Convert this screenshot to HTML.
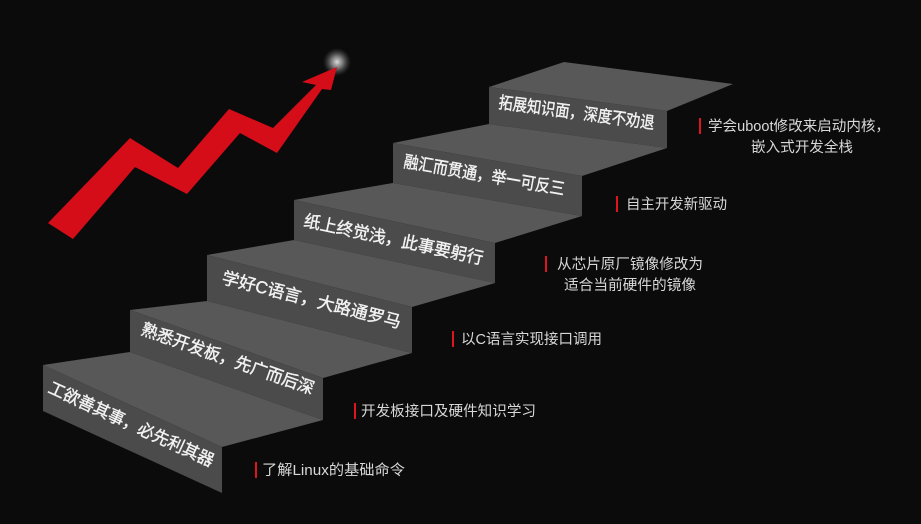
<!DOCTYPE html>
<html><head><meta charset="utf-8"><style>
html,body{margin:0;padding:0;background:#0b0b0b;}
svg{display:block;}
.s{font-family:"Liberation Sans","Noto Sans CJK SC",sans-serif;font-weight:normal;font-size:17px;fill:#f2f2f2;stroke:#f2f2f2;stroke-width:0.4px;}
.l{font-family:"Liberation Sans","Noto Sans CJK SC",sans-serif;font-size:14.5px;fill:#d8d8d8;}
</style></head><body>
<svg width="921" height="524" viewBox="0 0 921 524" xmlns="http://www.w3.org/2000/svg">
<defs>
<radialGradient id="g"><stop offset="0" stop-color="#ddd"/><stop offset="0.4" stop-color="#999" stop-opacity="0.8"/><stop offset="1" stop-color="#555" stop-opacity="0"/></radialGradient>
</defs>
<rect width="921" height="524" fill="#0b0b0b"/>
<polygon points="489,87 564,62 733,84 667,111" fill="#585858"/>
<polygon points="489,87 667,111 667,148 489,124" fill="#4b4b4b"/>
<polygon points="393,143 582,176 667,148 489,124" fill="#585858"/>
<polygon points="393,143 582,176 582,216 393,183" fill="#4b4b4b"/>
<polygon points="294,200 495,243 582,216 393,183" fill="#585858"/>
<polygon points="294,200 495,243 495,283 294,240" fill="#4b4b4b"/>
<polygon points="207,255 412,307 495,283 294,240" fill="#585858"/>
<polygon points="207,255 412,307 412,353 207,301" fill="#4b4b4b"/>
<polygon points="130,310 323,378 412,353 207,301" fill="#585858"/>
<polygon points="130,310 323,378 323,420 130,352" fill="#4b4b4b"/>
<polygon points="43,365 222,447 323,420 130,352" fill="#585858"/>
<polygon points="43,365 222,447 222,493 43,411" fill="#4b4b4b"/>

<text class="s" transform="translate(47,392) rotate(24.6)" textLength="180" lengthAdjust="spacingAndGlyphs">工欲善其事，必先利其器</text>
<text class="s" transform="translate(140,334) rotate(19.4)" textLength="182" lengthAdjust="spacingAndGlyphs">熟悉开发板，先广而后深</text>
<text class="s" transform="translate(221,283) rotate(14.2)" textLength="184" lengthAdjust="spacingAndGlyphs">学好C语言，大路通罗马</text>
<text class="s" transform="translate(303,226) rotate(12.1)" textLength="183" lengthAdjust="spacingAndGlyphs">纸上终觉浅，此事要躬行</text>
<text class="s" transform="translate(403,167) rotate(9.9)" textLength="163" lengthAdjust="spacingAndGlyphs">融汇而贯通，举一可反三</text>
<text class="s" transform="translate(498,108) rotate(7.7)" textLength="157" lengthAdjust="spacingAndGlyphs">拓展知识面，深度不劝退</text>

<rect x="255" y="462" width="2" height="16" fill="#e0141e"/>
<text class="l" x="262" y="475" textLength="143" lengthAdjust="spacingAndGlyphs">了解Linux的基础命令</text>
<rect x="354" y="403" width="2" height="16" fill="#e0141e"/>
<text class="l" x="361" y="416" textLength="175" lengthAdjust="spacingAndGlyphs">开发板接口及硬件知识学习</text>
<rect x="452" y="331" width="2" height="16" fill="#e0141e"/>
<text class="l" x="461" y="344" textLength="141" lengthAdjust="spacingAndGlyphs">以C语言实现接口调用</text>
<rect x="545" y="256" width="2" height="16" fill="#e0141e"/>
<text class="l" x="557" y="269" textLength="146" lengthAdjust="spacingAndGlyphs">从芯片原厂镜像修改为</text>
<text class="l" x="564" y="290" textLength="132" lengthAdjust="spacingAndGlyphs">适合当前硬件的镜像</text>
<rect x="616" y="196" width="2" height="16" fill="#e0141e"/>
<text class="l" x="626" y="209" textLength="101" lengthAdjust="spacingAndGlyphs">自主开发新驱动</text>
<rect x="699" y="118" width="2" height="16" fill="#e0141e"/>
<text class="l" x="708" y="131" textLength="182" lengthAdjust="spacingAndGlyphs">学会uboot修改来启动内核，</text>
<text class="l" x="751" y="152" textLength="102" lengthAdjust="spacingAndGlyphs">嵌入式开发全栈</text>

<circle cx="337" cy="62" r="14" fill="url(#g)"/>
<polygon points="48,223 130,138 178,168 229,109 273,128 316,85 302,82 337,67 331,90 322,89 277,153 240,133 187,194 135,167 73,239" fill="#d40d19"/>
</svg>
</body></html>
